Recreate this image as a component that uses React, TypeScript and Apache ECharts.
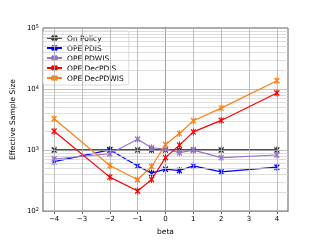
import React, { useEffect, useRef } from "react";
import * as echarts from "echarts";

const betas = [-4, -2, -1, -0.5, 0, 0.5, 1, 2, 4];
const onPolicy = [1000, 1000, 1000, 1000, 1000, 1000, 1000, 1000, 1000];
const opePDIS = [646, 1010, 550, 418, 486, 462, 550, 440, 524];
const opePDWIS = [714, 871, 1507, 1091, 1037, 905, 1000, 751, 830];
const opeDecPDIS = [2030, 360, 214, 330, 751, 1205, 1983, 3060, 8610];
const opeDecPDWIS = [3266, 557, 327, 537, 1235, 1862, 3020, 4860, 13650];
const seriesNames = ["On Policy", "OPE PDIS", "OPE PDWIS", "OPE DecPDIS", "OPE DecPDWIS"];
const xTicks = [-4, -3, -2, -1, 0, 1, 2, 3, 4];
const yTicks = [100, 1000, 10000, 100000];
const yMinor = [200, 300, 400, 500, 600, 700, 800, 900, 2000, 3000, 4000, 5000, 6000, 7000, 8000, 9000, 20000, 30000, 40000, 50000, 60000, 70000, 80000, 90000];

const colors = ["#333333", "#0000ff", "#9a72c8", "#ff0000", "#ff7f0e"];
const MARK = "path://M0,1L6,7M6,1L0,7M3,0L3,8";

export default function App() {
  const ref = useRef<HTMLDivElement>(null);
  useEffect(() => {
    if (!ref.current) return;
    const chart = echarts.init(ref.current, null, { renderer: "svg" });
    const allData = [onPolicy, opePDIS, opePDWIS, opeDecPDIS, opeDecPDWIS];
    const series: any[] = [
      {
        type: "line",
        name: "grid",
        data: [],
        silent: true,
        z: 1,
        markLine: {
          silent: true,
          symbol: "none",
          label: { show: false },
          animation: false,
          data: [
            ...yMinor.map((v) => ({ yAxis: v, lineStyle: { color: "#d6d6d6", width: 0.8, type: "solid" } })),
            ...yTicks.map((v) => ({ yAxis: v, lineStyle: { color: "#b0b0b0", width: 0.8, type: "solid" } })),
            ...xTicks.map((v) => ({ xAxis: v, lineStyle: { color: "#b0b0b0", width: 0.8, type: "solid" } })),
          ],
        },
      },
    ];
    allData.forEach((d, i) => {
      series.push({
        type: "line",
        name: seriesNames[i],
        data: betas.map((b, j) => [b, d[j]]),
        symbol: MARK,
        symbolSize: [5, 7],
        z: 3 + i,
        lineStyle: { color: colors[i], width: i === 0 ? 2 : 1.2, opacity: i === 0 ? 0.85 : 1 },
        itemStyle: { color: colors[i], borderColor: colors[i], borderWidth: 1.2 },
      });
    });
    chart.setOption({
      animation: false,
      grid: {
        left: 40,
        right: 32,
        top: 28,
        bottom: 27,
        show: true,
        borderColor: "#333",
        borderWidth: 0.8,
        backgroundColor: "#fff",
      },
      legend: {
        data: seriesNames,
        orient: "vertical",
        left: 43,
        top: 31,
        itemWidth: 15,
        itemHeight: 7,
        itemGap: 2,
        padding: [3, 5, 3, 3],
        backgroundColor: "rgba(255,255,255,0.85)",
        borderColor: "#d0d0d0",
        borderWidth: 0.8,
        borderRadius: 2,
        textStyle: { fontSize: 7.5, fontFamily: "DejaVu Sans", color: "#000" },
      },
      xAxis: {
        type: "value",
        min: -4.4,
        max: 4.4,
        name: "beta",
        nameLocation: "middle",
        nameGap: 15,
        nameTextStyle: { fontSize: 7.5, fontFamily: "DejaVu Sans", color: "#000" },
        axisLine: { show: true, onZero: false, lineStyle: { color: "#333", width: 0.8 } },
        axisTick: { show: true, length: 3, customValues: xTicks, lineStyle: { color: "#333", width: 0.8 } },
        axisLabel: {
          customValues: xTicks,
          fontSize: 7,
          fontFamily: "DejaVu Sans",
          color: "#000",
          margin: 4,
          formatter: (v: number) => (v < 0 ? "\u2212" + -v : String(v)),
        },
        splitLine: { show: false },
      },
      yAxis: {
        type: "log",
        min: 100,
        max: 100000,
        name: "Effective Sample Size",
        nameLocation: "middle",
        nameGap: 22,
        nameTextStyle: { fontSize: 7.5, fontFamily: "DejaVu Sans", color: "#000" },
        axisLine: { show: true, lineStyle: { color: "#333", width: 0.8 } },
        axisTick: { show: true, length: 3, customValues: yTicks, lineStyle: { color: "#333", width: 0.8 } },
        axisLabel: {
          customValues: yTicks,
          margin: 4,
          formatter: (v: number) => "{b|10}{s|" + Math.round(Math.log10(v)) + "}",
          rich: {
            b: { fontSize: 7, fontFamily: "DejaVu Sans", color: "#000" },
            s: { fontSize: 5, fontFamily: "DejaVu Sans", color: "#000", verticalAlign: "bottom", padding: [0, 0, 5, 0] },
          },
        },
        splitLine: { show: false },
        minorTick: { show: false },
      },
      series,
    });
    return () => chart.dispose();
  }, []);
  return <div ref={ref} style={{ position: "fixed", left: 0, top: 0, width: 320, height: 240 }} />;
}
